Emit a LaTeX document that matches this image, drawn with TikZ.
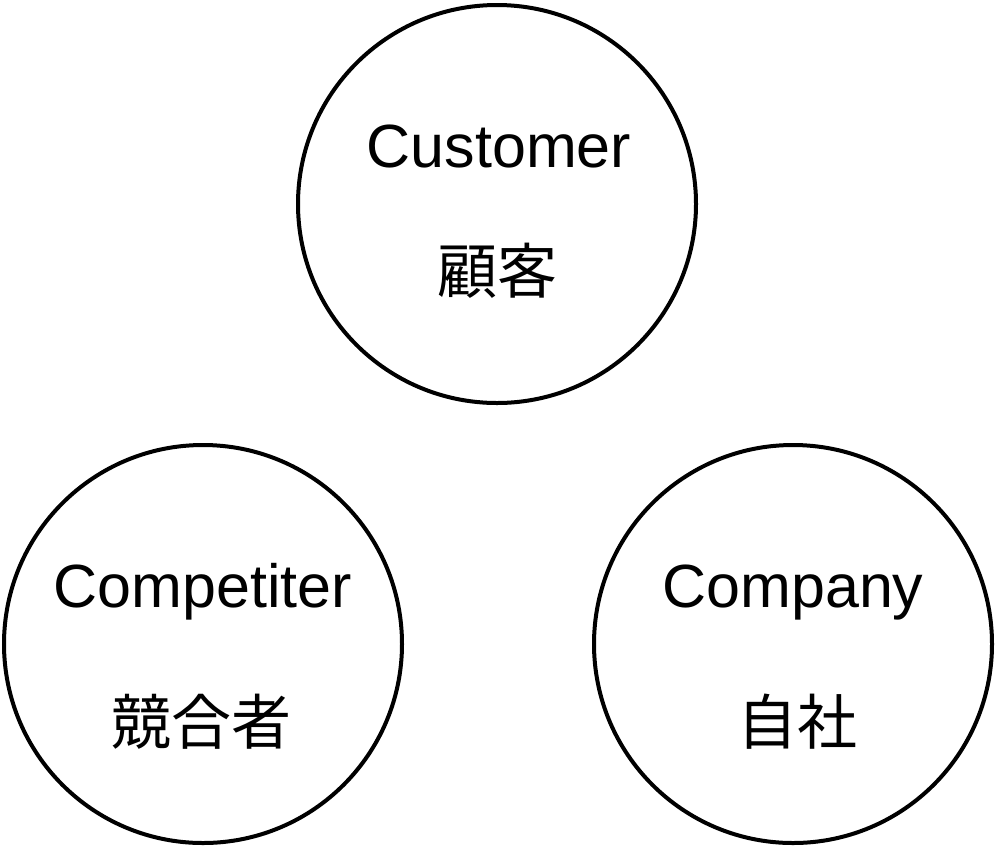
\documentclass[tikz,border=0pt]{standalone}
\usepackage{fontspec}
\setmainfont{Liberation Sans}
\newfontfamily\cjk{Noto Sans CJK JP}
\begin{document}
\begin{tikzpicture}[x=1pt,y=-1pt,
  ring/.style={draw=black,line width=4pt,circle,minimum size=398pt,inner sep=0pt},
  lat/.style={anchor=base,inner sep=0pt,font=\fontsize{61}{61}\selectfont},
  jp/.style={anchor=center,inner sep=0pt,font=\cjk\fontsize{60}{60}\selectfont}]
\useasboundingbox (0,0) rectangle (995,847);
\node[ring] (cus) at (497,204) {};
\node[ring] (com) at (203,644) {};
\node[ring] (own) at (793,644) {};
\node[lat] (cusen) at (499,167) {Customer};
\node[jp] (cusjp) at (497,271) {顧客};
\node[lat] (comen) at (203,607) {Competiter};
\node[jp] (comjp) at (201,722) {競合者};
\node[lat] (ownen) at (793,607) {Company};
\node[jp] (ownjp) at (797,722) {自社};
\end{tikzpicture}
\end{document}
